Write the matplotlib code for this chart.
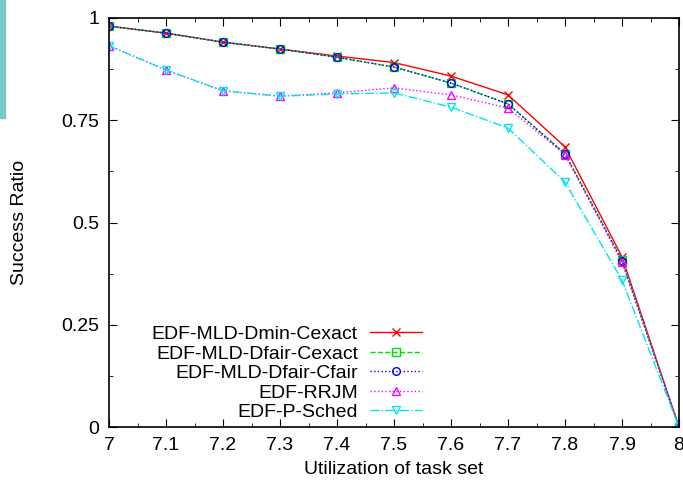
import matplotlib
matplotlib.use('Agg')
import matplotlib.pyplot as plt
from matplotlib.patches import Rectangle
from matplotlib.ticker import MultipleLocator

plt.rcParams['font.family'] = ['Liberation Sans', 'DejaVu Sans']

utilization = [7.0, 7.1, 7.2, 7.3, 7.4, 7.5, 7.6, 7.7, 7.8, 7.9, 8.0]
dmin_cexact = [0.980, 0.963, 0.941, 0.924, 0.907, 0.891, 0.858, 0.812, 0.685, 0.416, 0.0]
dfair_cexact = [0.980, 0.963, 0.941, 0.924, 0.904, 0.880, 0.841, 0.790, 0.668, 0.408, 0.0]
dfair_cfair = [0.980, 0.963, 0.941, 0.924, 0.904, 0.880, 0.841, 0.790, 0.668, 0.406, 0.0]
rrjm = [0.932, 0.873, 0.822, 0.809, 0.817, 0.829, 0.812, 0.780, 0.666, 0.403, 0.0]
p_sched = [0.932, 0.873, 0.822, 0.809, 0.814, 0.817, 0.782, 0.731, 0.599, 0.359, 0.0]

series = [
    ('EDF-MLD-Dmin-Cexact', dmin_cexact, '#ff0000', '-', 'x'),
    ('EDF-MLD-Dfair-Cexact', dfair_cexact, '#00e000', '--', 's'),
    ('EDF-MLD-Dfair-Cfair', dfair_cfair, '#0000ff', ':', 'o'),
    ('EDF-RRJM', rrjm, '#ff00ff', ':', '^'),
    ('EDF-P-Sched', p_sched, '#00e5ee', '-.', 'v'),
]

fig = plt.figure(figsize=(6.83, 4.88), dpi=100)
ax = fig.add_axes([109 / 683, 61 / 488, 570 / 683, 409 / 488])

# stray teal strip at the left edge of the original image
fig.patches.append(Rectangle((0, 370 / 488), 5 / 683, 118 / 488,
                             transform=fig.transFigure, color='#7cc8c8', zorder=0))

for label, vals, color, ls, mk in series:
    ax.plot(utilization, vals, color=color, linestyle=ls, linewidth=1,
            marker=mk, markersize=5.5, markerfacecolor='none',
            markeredgecolor=color, markeredgewidth=1, label=label)

ax.set_xlim(7, 8)
ax.set_ylim(0, 1)
ax.xaxis.set_minor_locator(MultipleLocator(0.05))
ax.yaxis.set_minor_locator(MultipleLocator(0.125))
ax.set_xticks(utilization)
ax.set_xticklabels(['7', '7.1', '7.2', '7.3', '7.4', '7.5', '7.6', '7.7', '7.8', '7.9', '8'])
ax.set_yticks([0, 0.25, 0.5, 0.75, 1])
ax.set_yticklabels(['0', '0.25', '0.5', '0.75', '1'])
ax.tick_params(which='both', direction='in', top=True, right=True, labelsize=14)
ax.tick_params(which='major', length=6, pad=7)
ax.tick_params(which='minor', length=3)
for sp in ax.spines.values():
    sp.set_linewidth(1.2)

ax.set_xlabel('Utilization of task set', fontsize=14, labelpad=5)
ax.set_ylabel('Success Ratio', fontsize=14, labelpad=24)

ax.legend(loc='lower right', bbox_to_anchor=(0.563, -0.005), frameon=False,
          markerfirst=False, fontsize=14, handlelength=2.7, labelspacing=0.1,
          handletextpad=0.6, borderaxespad=0.0)

fig.savefig('out.png', dpi=100)
